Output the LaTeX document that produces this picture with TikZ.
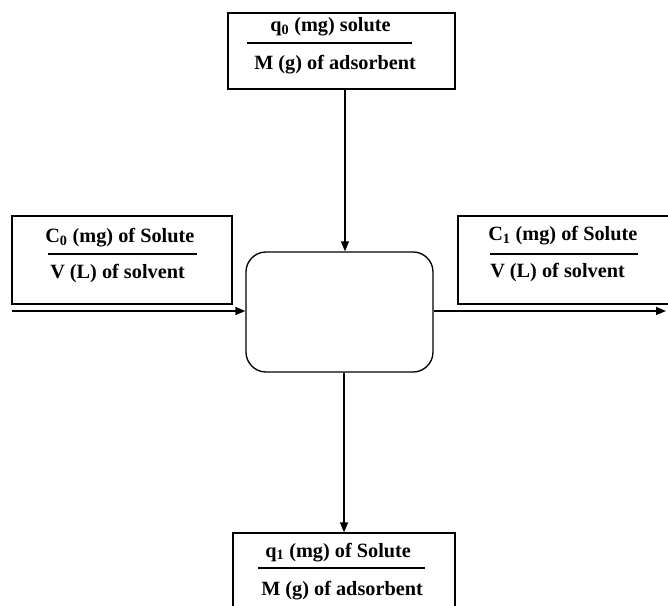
\documentclass[tikz,border=0pt]{standalone}
\usepackage{fontspec}
\setmainfont{Liberation Serif}
\usetikzlibrary{arrows.meta}
\begin{document}
\begin{tikzpicture}[x=0.75pt,y=-0.75pt,
  box/.style={draw, line width=1pt, inner sep=0pt},
  lbl/.style={anchor=base west, inner sep=0pt, font=\fontsize{15.2}{18}\selectfont\bfseries},
  frac/.style={line width=1pt},
  conn/.style={line width=1pt, -{Triangle[length=7.5pt,width=6pt]}}]
\useasboundingbox (0,0) rectangle (668,606);
\clip (0,0) rectangle (668,606);
% boxes
\node[box, minimum width=170.25pt, minimum height=57pt] (topbox) at (341.5,51) {};
\node[box, minimum width=165pt, minimum height=66pt] (leftbox) at (122,260) {};
\node[box, minimum width=181.5pt, minimum height=66pt] (rightbox) at (579,260) {};
\node[box, rounded corners=15pt, minimum width=140.25pt, minimum height=90pt] (rbox) at (339.5,312) {};
\node[box, minimum width=166.5pt, minimum height=87.75pt] (botbox) at (344,591.5) {};
% texts
\node[lbl] (t1) at (270,32) {q\textsubscript{0} (mg) solute};
\node[lbl] (t2) at (254,70) {M (g) of adsorbent};
\draw[frac] (247,43) -- (412,43);
\node[lbl] (l1) at (45,243) {C\textsubscript{0} (mg) of Solute};
\node[lbl] (l2) at (50,278) {V (L) of solvent};
\draw[frac] (48,254) -- (197,254);
\node[lbl] (r1) at (488,241) {C\textsubscript{1} (mg) of Solute};
\node[lbl] (r2) at (490,277) {V (L) of solvent};
\draw[frac] (490,254) -- (638,254);
\node[lbl] (b1) at (265,557) {q\textsubscript{1} (mg) of Solute};
\node[lbl] (b2) at (261,595) {M (g) of adsorbent};
\draw[frac] (258,568) -- (425,568);
% connectors
\coordinate (lin) at (12,311);
\coordinate (rout) at (666,311);
\draw[conn] (lin) -- (lin -| rbox.west);
\draw[conn] (rbox.east |- rout) -- (rout);
\draw[conn] ([xshift=2.6pt]topbox.south) -- ([xshift=2.6pt]topbox.south |- rbox.north);
\draw[conn] ([xshift=3.4pt]rbox.south) -- ([xshift=3.4pt]rbox.south |- botbox.north);
\end{tikzpicture}
\end{document}
